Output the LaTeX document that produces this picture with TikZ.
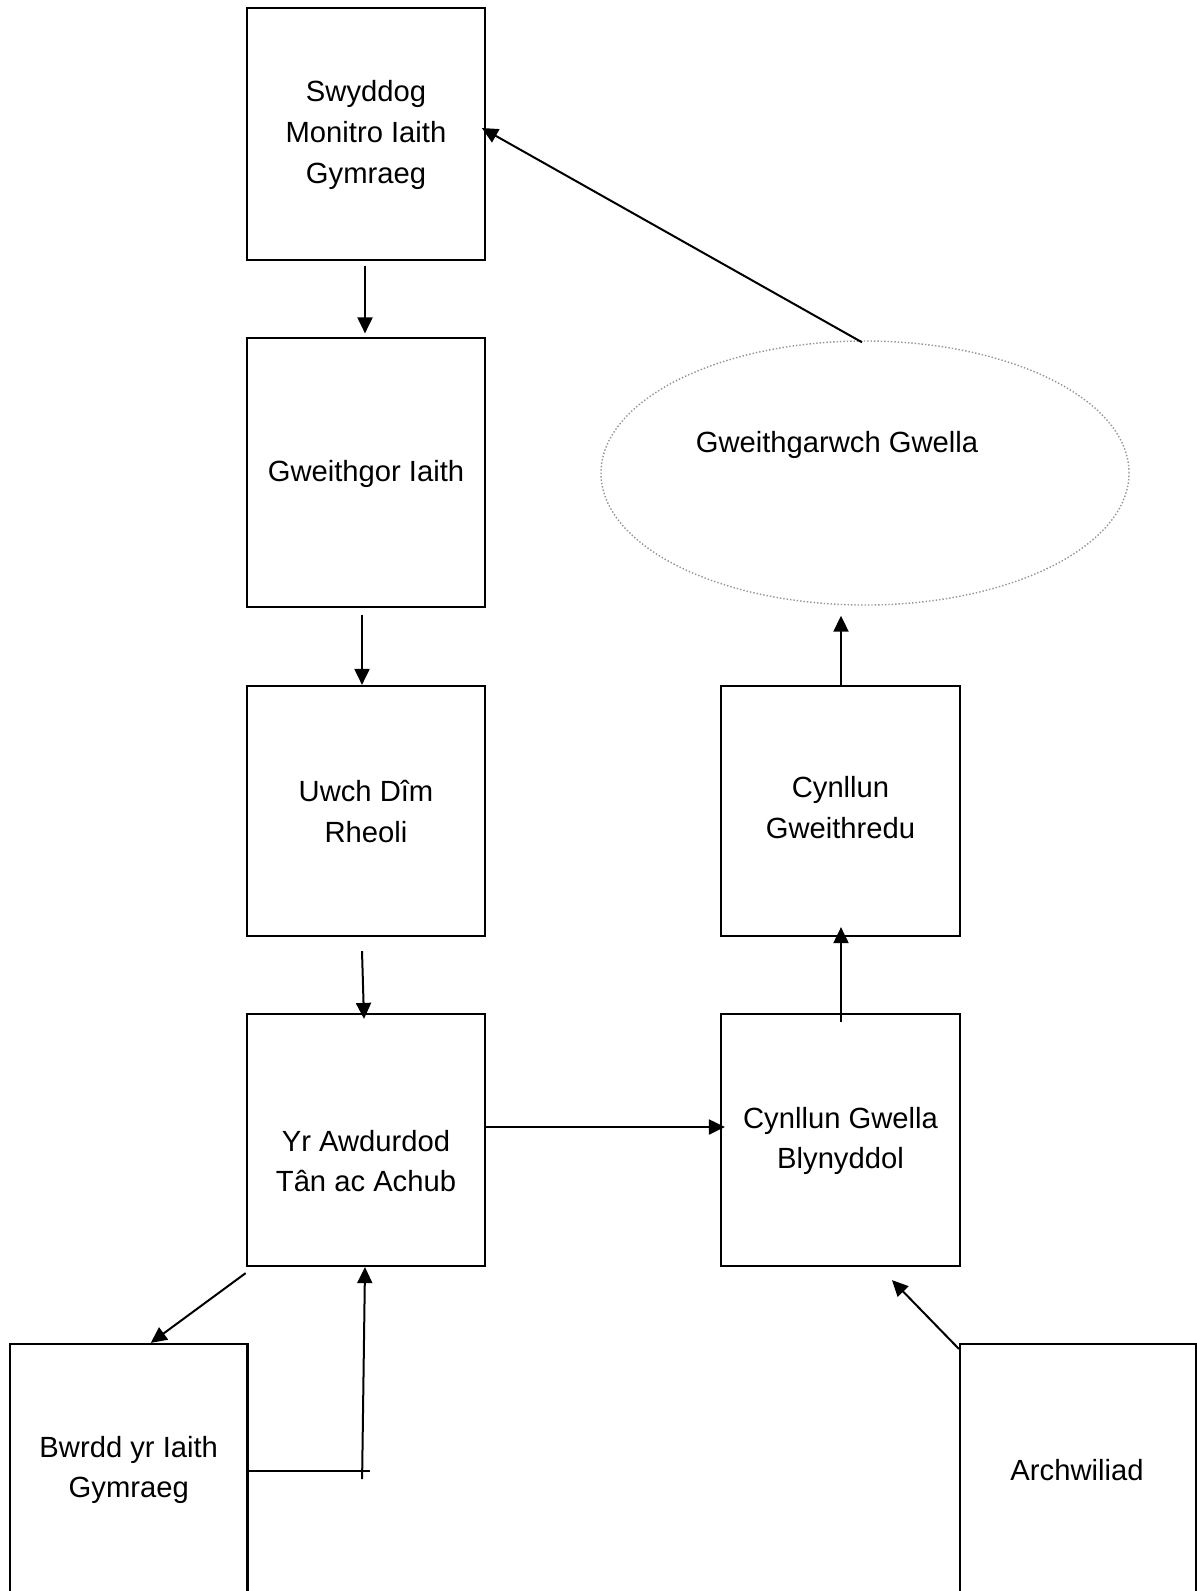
\documentclass[tikz,border=0pt]{standalone}
\usepackage{fontspec}
\setmainfont{Liberation Sans}
\usetikzlibrary{arrows.meta,shapes.geometric,calc}
\tikzset{
  box/.style={draw=black, line width=2.2pt, minimum width=237.5pt, inner sep=0pt},
  lbl/.style={align=center, font=\fontsize{29.2}{40.6}\selectfont, inner sep=0pt},
  arr/.style={line width=2pt, -{Triangle[length=16pt,width=15pt]}},
  ln/.style={line width=2pt},
  oval/.style={ellipse, draw=gray!85, dotted, line width=1.4pt, inner sep=0pt}
}
\begin{document}
\begin{tikzpicture}[x=1pt,y=-1pt]
\useasboundingbox (0,0) rectangle (1197,1591);
\clip (0,0) rectangle (1197,1591);
% boxes
\node[box, minimum height=252pt] (swy) at (366,134) {};
\node[box, minimum height=269pt] (gwg) at (366,472.5) {};
\node[box, minimum height=250pt] (uwch) at (366,811) {};
\node[box, minimum height=252pt] (yr) at (366,1140) {};
\node[box, minimum height=276pt] (bwrdd) at (128.75,1482) {};
\node[box, minimum width=239pt, minimum height=250pt] (cgr) at (840.5,811) {};
\node[box, minimum width=239pt, minimum height=252pt] (cgl) at (840.5,1140) {};
\node[box, minimum width=236pt, minimum height=276pt] (arch) at (1078,1482) {};
\node[oval, minimum width=528pt, minimum height=264pt] (gg) at (865,473) {};
% texts
\node[lbl] (tswy) at (366,135) {Swyddog\\Monitro Iaith\\Gymraeg};
\node[lbl] (tgwg) at (366,473.5) {Gweithgor Iaith};
\node[lbl] (tuwch) at (366,811.5) {Uwch Dîm\\Rheoli};
\node[lbl] (tyr) at (366,1161) {Yr Awdurdod\\Tân ac Achub};
\node[lbl] (tbwrdd) at (128.75,1470) {Bwrdd yr Iaith\\Gymraeg};
\node[lbl] (tcgr) at (840.5,807.5) {Cynllun\\Gweithredu};
\node[lbl] (tcgl) at (840.5,1141) {Cynllun Gwella\\Blynyddol};
\node[lbl] (tarch) at (1077,1470) {Archwiliad};
\node[lbl] (tgg) at (837,445) {Gweithgarwch Gwella};
% connector end points
\coordinate (a1) at ($(swy.south)+(-1,5)$);
\coordinate (b1) at ($(gwg.north)+(-1,-3.5)$);
\coordinate (a2) at ($(gwg.south)+(-4,6.5)$);
\coordinate (b2) at ($(uwch.north)+(-4,0)$);
\coordinate (a3) at ($(uwch.south)+(-4,14)$);
\coordinate (b3) at ($(yr.north)+(-2,6)$);
\coordinate (a4) at ($(yr.east)+(0,-13)$);
\coordinate (b4) at ($(cgl.west)+(5,-13)$);
\coordinate (a5) at ($(cgl.north)+(0.5,9)$);
\coordinate (b5) at ($(cgr.south)+(0.5,-10)$);
\coordinate (a6) at ($(cgr.north)+(0.5,0)$);
\coordinate (b6) at ($(gg.south)+(-24,10)$);
\coordinate (a7) at ($(gg.north)+(-3,2)$);
\coordinate (b7) at ($(swy.east)+(-4,-6)$);
\coordinate (a8) at ($(yr.south west)+(-0.5,6)$);
\coordinate (b8) at ($(bwrdd.north)+(22,0)$);
\coordinate (a9) at ($(bwrdd.east)+(0,-11)$);
\coordinate (c9) at ($(a9)+(121.5,0)$);
\coordinate (d9) at ($(a9)+(113.5,8)$);
\coordinate (b9) at ($(yr.south)+(-1,0)$);
\coordinate (a10) at ($(arch.north west)+(0,6)$);
\coordinate (b10) at ($(cgl.south)+(51.5,13)$);
% connectors
\draw[arr] (a1) -- (b1);
\draw[arr] (a2) -- (b2);
\draw[arr] (a3) -- (b3);
\draw[arr] (a4) -- (b4);
\draw[arr] (a5) -- (b5);
\draw[arr] (a6) -- (b6);
\draw[arr] (a7) -- (b7);
\draw[arr] (a8) -- (b8);
\draw[ln] (a9) -- (c9);
\draw[arr] (d9) -- (b9);
\draw[arr] (a10) -- (b10);
\end{tikzpicture}
\end{document}
